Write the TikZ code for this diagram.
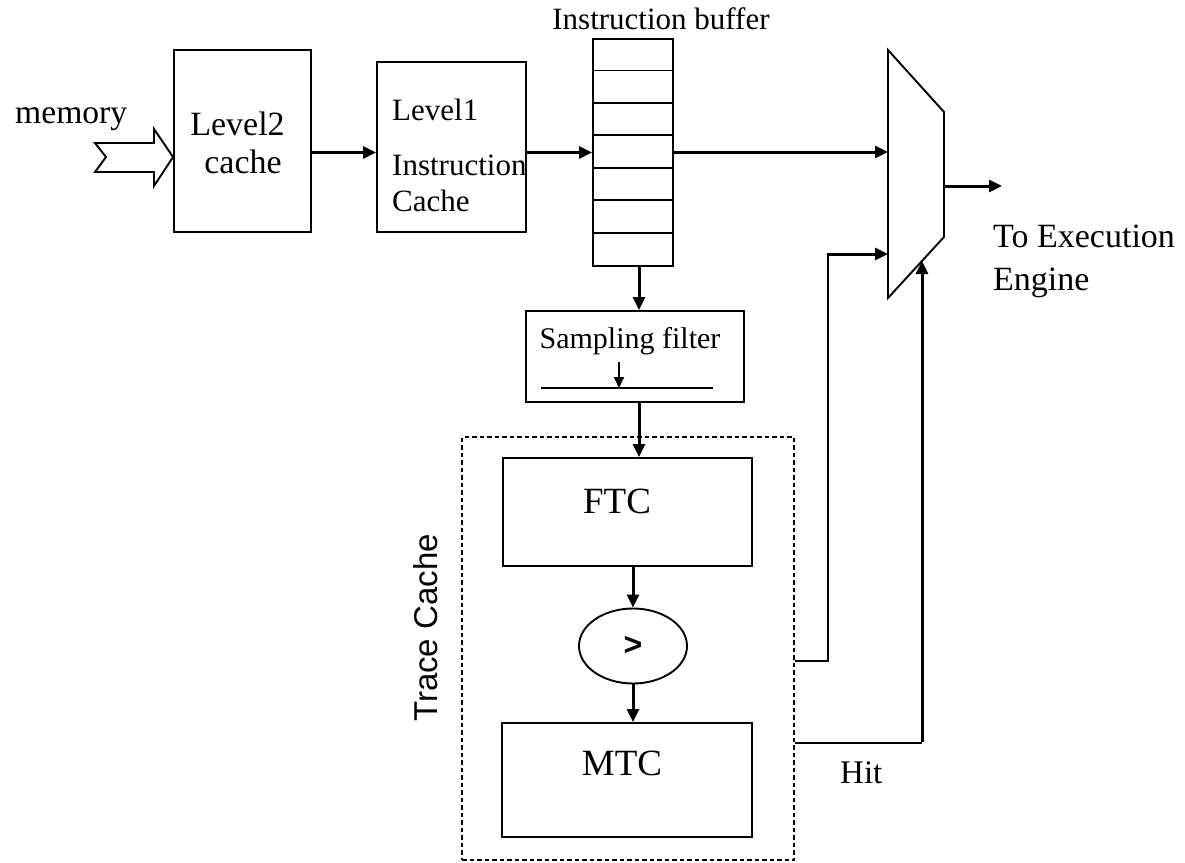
\documentclass[tikz,border=0pt]{standalone}
\usepackage{fontspec}
\setmainfont{Liberation Serif}
\newfontfamily\arialf{Liberation Sans}
\usetikzlibrary{arrows.meta,shapes.geometric}
\begin{document}
\begin{tikzpicture}[x=1pt,y=-1pt,
  box/.style={draw, line width=1.9pt, inner sep=0pt},
  conn/.style={line width=3pt, -{Triangle[length=13pt,width=12pt]}},
  smallconn/.style={line width=2pt, -{Triangle[length=11pt,width=10pt]}},
  thinline/.style={line width=2pt},
  txt/.style={inner sep=0pt, font=\fontsize{#1}{#1}\selectfont},
  txt/.default=33
]
\useasboundingbox (0,0) rectangle (1185,862);

% boxes
\node[box, minimum width=137pt, minimum height=182pt] (l2) at (242.5,141) {};
\node[box, minimum width=149pt, minimum height=170pt] (l1) at (451.5,147) {};
\node[box, minimum width=80pt, minimum height=227pt] (buf) at (633,152.5) {};
\foreach \k in {1,...,6} {
  \draw[line width=1.9pt] ([yshift=-\k*32.43pt]buf.north west) -- ([yshift=-\k*32.43pt]buf.north east);
}
\node[box, minimum width=218pt, minimum height=91pt] (sf) at (635,356.5) {};
\node[draw, line width=2pt, dash pattern=on 4.5pt off 3pt, minimum width=332pt, minimum height=423pt, inner sep=0pt] (tc) at (628,648.5) {};
\node[box, minimum width=249pt, minimum height=108pt] (ftc) at (627.5,512) {};
\node[box, ellipse, minimum width=108pt, minimum height=75pt] (cmp) at (633,646) {};
\node[box, minimum width=250pt, minimum height=114pt] (mtc) at (627,780) {};

% multiplexer
\coordinate (mtl) at (888,50);
\coordinate (mtr) at (944,112);
\coordinate (mbr) at (944,237);
\coordinate (mbl) at (888,298);
\draw[line width=1.9pt] (mtl) -- (mtr) -- (mbr) -- (mbl) -- cycle;
\coordinate (mx1) at (888,152);
\coordinate (mx2) at (888,254);
\coordinate (mx3) at (922,261);
\coordinate (mout) at (944,186);
\coordinate (eout) at (1002,186);

% memory notched arrow
\coordinate (ma) at (95,143);
\draw[line width=1.9pt] (ma) -- (154,143) -- (154,129) -- (l2.west |- 0,157) -- (154,186) -- (154,172) -- (95,172) -- (106,157) -- cycle;

% connectors
\coordinate (ya) at (0,152.5);
\draw[conn] (l2.east |- ya) -- (l1.west |- ya);
\draw[conn] (l1.east |- ya) -- (buf.west |- ya);
\draw[conn] (buf.east |- mx1) -- (mx1);
\draw[conn] (mout) -- (eout);
\coordinate (sx) at (639,0);
\draw[conn] (buf.south -| sx) -- (sf.north -| sx);
\draw[conn] (sf.south -| sx) -- (ftc.north -| sx);
\draw[conn] (ftc.south -| cmp) -- (cmp.north);
\draw[conn] (cmp.south) -- (mtc.north -| cmp);

% sampling filter inner symbol
\coordinate (fl1) at (541,388);
\coordinate (fl2) at (713,388);
\draw[line width=1.9pt] (fl1) -- (fl2);
\coordinate (fa) at (619,362);
\draw[smallconn] (fa) -- (fa |- fl1);

% trace cache outputs
\coordinate (vx) at (828,661);
\draw[thinline] (tc.east |- vx) -- (vx) -- (vx |- mx2);
\draw[conn] ([xshift=-1pt]vx |- mx2) -- (mx2);
\coordinate (hx) at (922,743);
\draw[thinline] (tc.east |- hx) -- (hx);
\draw[conn] ([yshift=1.5pt]hx) -- (mx3);

% texts
\node[txt=33.6, anchor=base west] (tmem) at (15,123) {memory};
\node[txt=34, anchor=base] (tl2a) at (237.5,135) {Level2};
\node[txt=34, anchor=base] (tl2b) at (243,173) {cache};
\node[txt=31, anchor=base west] (tl1a) at (392,120) {Level1};
\node[txt=31, anchor=base west] (tl1b) at (392,175) {Instruction};
\node[txt=31, anchor=base west] (tl1c) at (392,211) {Cache};
\node[txt=31, anchor=base] (tbuf) at (661,29) {Instruction buffer};
\node[txt=30, anchor=base] (tsf) at (630,348) {Sampling filter};
\node[txt=37, anchor=base] (tftc) at (617,513) {FTC};
\node[txt=37, anchor=base] (tmtc) at (622,775) {MTC};
\node[inner sep=0pt, font=\arialf\bfseries\fontsize{32}{32}\selectfont] (tgt) at (633,646) {>};
\node[txt=33, anchor=base west] (thit) at (840,783) {Hit};
\node[txt=34, anchor=base west] (tex1) at (993,247) {To Execution};
\node[txt=34, anchor=base west] (tex2) at (993,290) {Engine};
\node[inner sep=0pt, font=\arialf\fontsize{33}{33}\selectfont, rotate=90, anchor=base west] (ttc) at (437,722) {Trace Cache};
\end{tikzpicture}
\end{document}
